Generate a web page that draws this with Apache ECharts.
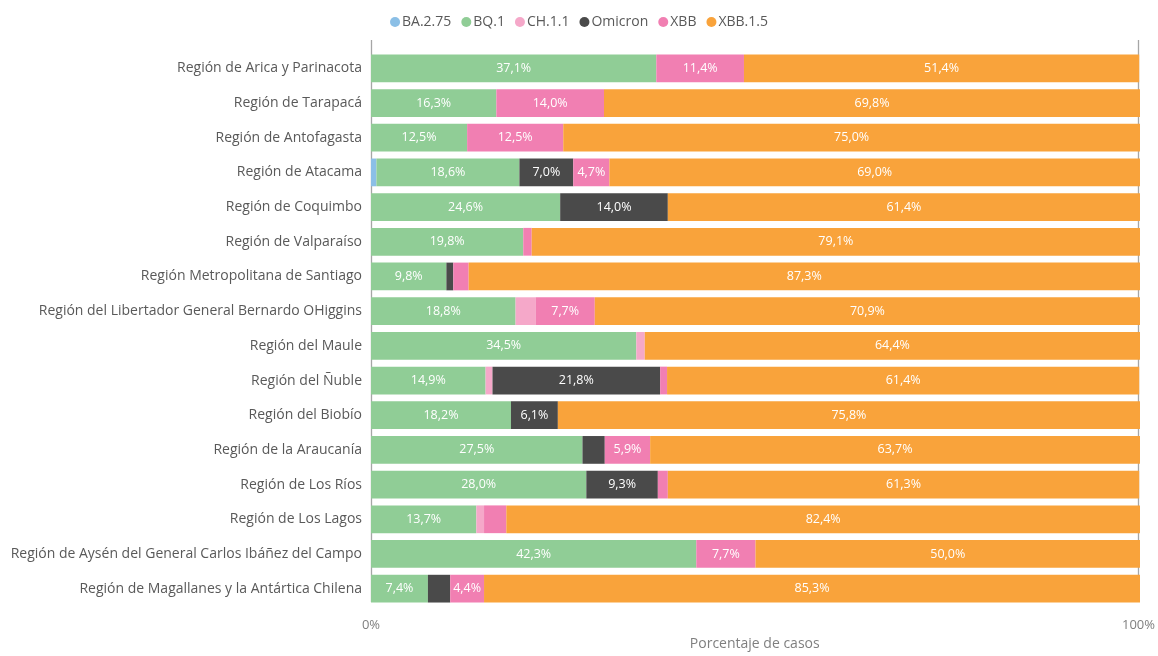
<!DOCTYPE html>
<html>
<head>
<meta charset="utf-8">
<script src="https://cdn.jsdelivr.net/npm/echarts@6/dist/echarts.min.js"></script>
<style>
  html, body { margin: 0; padding: 0; background: #fff; }
  #main { width: 1158px; height: 656px; }
</style>
</head>
<body>
<div id="main"></div>
<script>
// regiones (de arriba hacia abajo)
var regiones = [
  "Región de Arica y Parinacota",
  "Región de Tarapacá",
  "Región de Antofagasta",
  "Región de Atacama",
  "Región de Coquimbo",
  "Región de Valparaíso",
  "Región Metropolitana de Santiago",
  "Región del Libertador General Bernardo OHiggins",
  "Región del Maule",
  "Región del Ñuble",
  "Región del Biobío",
  "Región de la Araucanía",
  "Región de Los Ríos",
  "Región de Los Lagos",
  "Región de Aysén del General Carlos Ibáñez del Campo",
  "Región de Magallanes y la Antártica Chilena"
];

var variantes = ["BA.2.75", "BQ.1", "CH.1.1", "Omicron", "XBB", "XBB.1.5"];
var colores = ["#8bbfe6", "#90cd96", "#f5a8c9", "#4a4a4a", "#f17fb2", "#f9a33b"];

// porcentajes por variante, mismo orden que regiones
var ba275   = [0, 0, 0, 0.7, 0, 0, 0, 0, 0, 0, 0, 0, 0, 0, 0, 0];
var bq1     = [37.1, 16.3, 12.5, 18.6, 24.6, 19.8, 9.8, 18.8, 34.5, 14.9, 18.2, 27.5, 28.0, 13.7, 42.3, 7.4];
var ch11    = [0, 0, 0, 0, 0, 0, 0, 2.6, 1.1, 0.9, 0, 0, 0, 1.0, 0, 0];
var omicron = [0, 0, 0, 7.0, 14.0, 0, 0.9, 0, 0, 21.8, 6.1, 2.9, 9.3, 0, 0, 2.9];
var xbb     = [11.4, 14.0, 12.5, 4.7, 0, 1.1, 2.0, 7.7, 0, 0.9, 0, 5.9, 1.3, 2.9, 7.7, 4.4];
var xbb15   = [51.4, 69.8, 75.0, 69.0, 61.4, 79.1, 87.3, 70.9, 64.4, 61.4, 75.8, 63.7, 61.3, 82.4, 50.0, 85.3];

var valores = [ba275, bq1, ch11, omicron, xbb, xbb15];

var FONT = "Open Sans";

var myChart = echarts.init(document.getElementById("main"));

var series = variantes.map(function (nombre, i) {
  return {
    name: nombre,
    type: "bar",
    stack: "total",
    xAxisIndex: 0,
    yAxisIndex: 0,
    barCategoryGap: "20%",
    itemStyle: { color: colores[i] },
    label: {
      show: true,
      position: "inside",
      color: "#fff",
      fontFamily: FONT,
      fontSize: 12.5,
      formatter: function (p) {
        if (p.value < 4) return "";
        return p.value.toFixed(1).replace(".", ",") + "%";
      }
    },
    data: valores[i]
  };
});

var option = {
  animation: false,
  color: colores,
  textStyle: { fontFamily: FONT },
  legend: {
    top: 10,
    left: "center",
    icon: "circle",
    itemWidth: 10,
    itemHeight: 10,
    itemGap: 10,
    textStyle: { fontFamily: FONT, fontSize: 14, color: "#595959", padding: [0, 0, 0, -3] },
    data: variantes
  },
  grid: [
    { left: 371, right: 18, top: 51, bottom: 50, containLabel: false },
    { left: 371, right: 18, top: 40, bottom: 42, containLabel: false }
  ],
  xAxis: [
    {
      type: "value",
      gridIndex: 0,
      min: 0,
      max: 100,
      interval: 100,
      axisLine: { show: false },
      axisTick: { show: false },
      splitLine: { show: false },
      axisLabel: { show: false }
    },
    {
      type: "value",
      gridIndex: 1,
      min: 0,
      max: 100,
      interval: 100,
      axisLine: { show: false },
      axisTick: { show: false },
      splitLine: { show: true, lineStyle: { color: "#a6a6a6", width: 1.3 } },
      axisLabel: {
        show: true,
        margin: 17,
        color: "#7f7f7f",
        fontFamily: FONT,
        fontSize: 13,
        formatter: "{value}%"
      },
      name: "Porcentaje de casos",
      nameLocation: "middle",
      nameGap: 34,
      nameTextStyle: { color: "#7f7f7f", fontFamily: FONT, fontSize: 14 }
    }
  ],
  yAxis: [
    {
      type: "category",
      gridIndex: 0,
      inverse: true,
      data: regiones,
      axisLine: { show: false },
      axisTick: { show: false },
      axisLabel: {
        margin: 9,
        color: "#595959",
        fontFamily: FONT,
        fontSize: 14
      }
    },
    {
      type: "category",
      gridIndex: 1,
      show: false,
      data: regiones
    }
  ],
  series: series
};

myChart.setOption(option);
</script>
</body>
</html>
